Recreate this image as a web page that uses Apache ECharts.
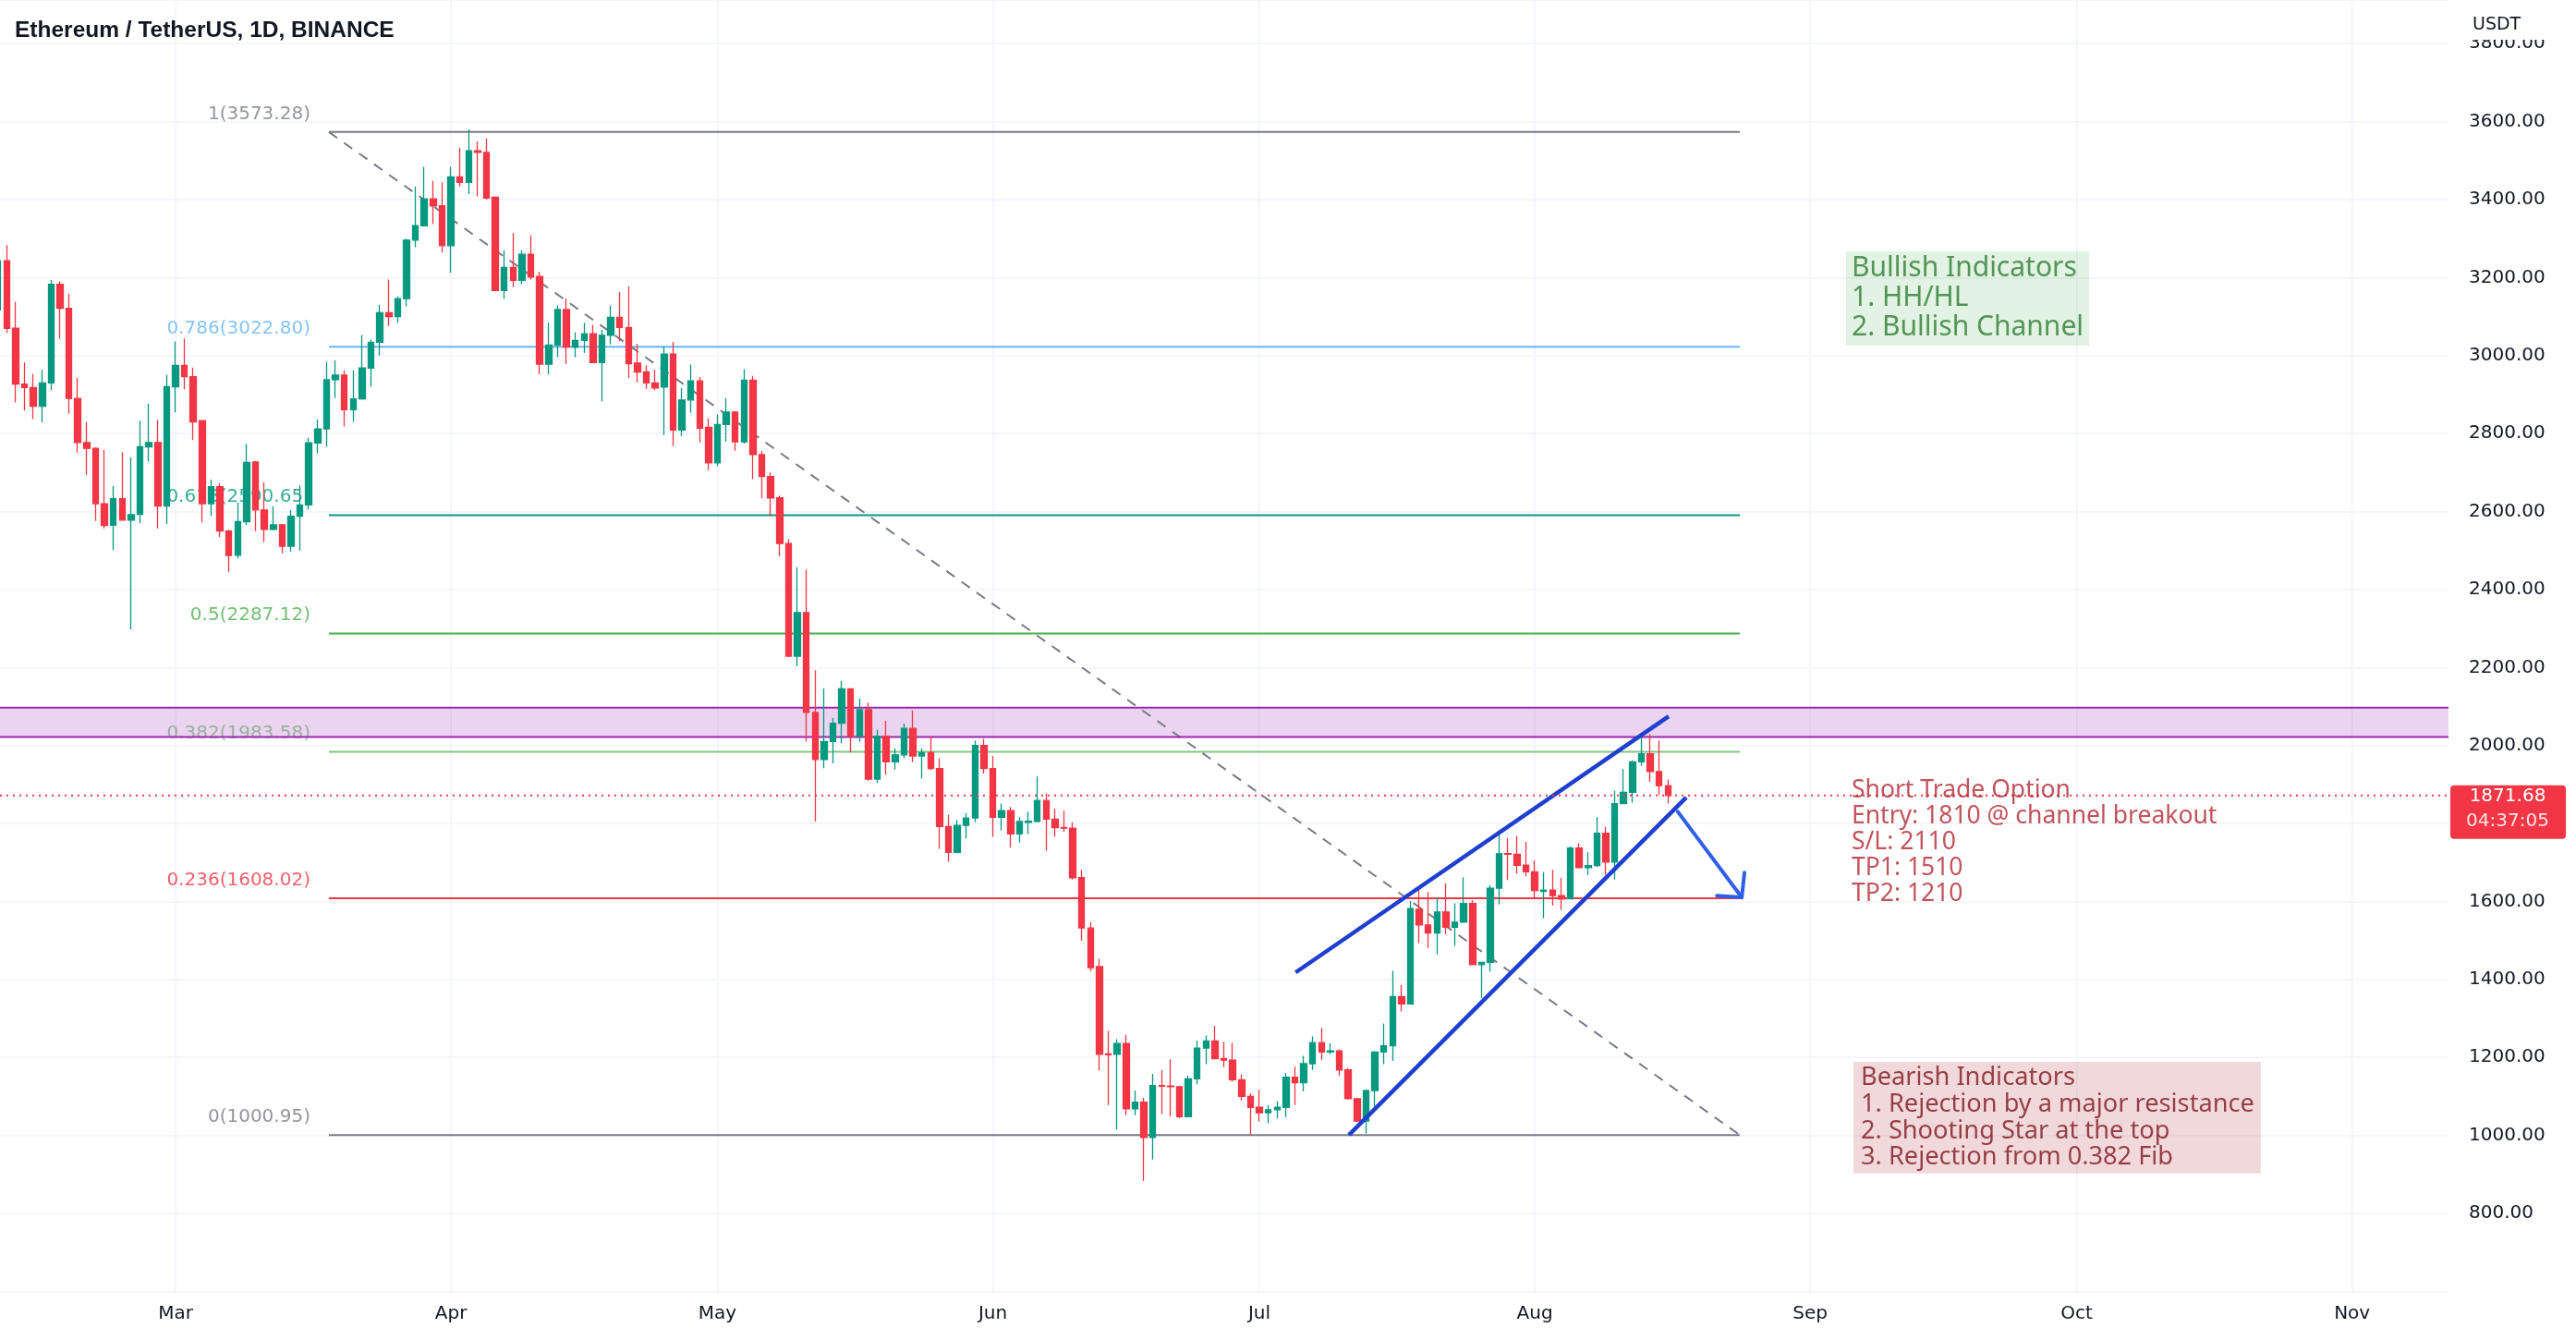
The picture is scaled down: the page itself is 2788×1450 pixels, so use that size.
<!DOCTYPE html>
<html>
<head>
<meta charset="utf-8">
<script src="https://cdn.jsdelivr.net/npm/echarts@6/dist/echarts.min.js"></script>
<style>html,body{margin:0;padding:0;background:#fff}#c{width:2788px;height:1450px}</style>
</head>
<body>
<div id="c"></div>
<script>
// ---------------- DATA ----------------
const firstCandleDate = '2022-02-09'; // consecutive daily candles from here
const open = [
  3117,3243,3070,2927,2918,2870,2930,3183,3121,2890,2777,2762,2620,2565,2633,2578,2593,2766,2777,2614,
  2920,2975,2946,2833,2620,2664,2550,2488,2574,2727,2604,2554,2566,2511,2588,2617,2776,2812,2938,2950,2861,2889,2968,3034,3110,3100,3146,3296,3333,3402,3384,
  3282,3458,3444,3525,3521,3406,3167,3226,3193,3260,3203,2978,3027,3118,3022,3039,3056,2982,3052,3098,3072,2981,2958,2930,2919,3004,2809,2886,2935,2816,
  2725,2823,2855,2779,2937,2746,2690,2635,2518,2229,2341,2085,1964,2010,2057,2145,2024,2092,1914,2024,1958,1976,2044,1973,1982,1941,1792,1726,1795,1814,2000,
  1941,1816,1833,1773,1803,1805,1859,1811,1790,1788,1661,1532,1433,1209,1208,1236,1068,1085,995,1128,1127,1125,1048,1145,1224,1242,1197,1193,1143,1100,
  1072,1058,1066,1072,1149,1135,1184,1238,1214,1217,1168,1094,1037,1115,1214,1230,1356,1337,1580,1540,1519,1573,1534,1547,1595,1438,1444,1634,1723,1721,1693,
  1676,1626,1629,1615,1607,1737,1687,1692,1775,1701,1851,1880,1958,1979,1933,1897
];
const high = [
  3262,3283,3138,2983,2953,2963,3194,3190,3159,2943,2830,2765,2758,2665,2752,2739,2833,2876,2834,2950,
  3036,3044,2969,2835,2682,2672,2553,2623,2773,2730,2675,2614,2568,2604,2667,2789,2836,2984,2988,2962,2962,3053,3041,3130,3195,3152,3300,3434,3484,3448,3444,
  3484,3533,3580,3549,3557,3408,3270,3314,3270,3308,3215,3084,3128,3146,3060,3084,3079,3066,3128,3163,3177,3030,2975,2964,3023,3035,2917,2977,2945,2839,
  2849,2891,2858,2965,2948,2756,2700,2641,2529,2457,2451,2193,2146,2071,2166,2147,2121,2110,2040,2063,1993,2056,2090,1993,2024,1967,1823,1809,1827,2013,2017,
  1973,1851,1842,1816,1830,1921,1877,1838,1833,1803,1681,1547,1453,1268,1247,1258,1115,1096,1158,1168,1195,1127,1153,1243,1256,1281,1240,1238,1157,1108,
  1117,1078,1088,1160,1176,1204,1254,1276,1236,1221,1173,1097,1118,1216,1287,1422,1386,1601,1630,1625,1610,1647,1595,1662,1603,1444,1642,1782,1763,1768,1753,
  1705,1676,1681,1661,1741,1749,1726,1816,1792,1884,1940,1962,2024,2029,2013,1913
];
const low = [
  3100,3058,2880,2859,2837,2829,2912,3044,2851,2751,2694,2576,2556,2501,2577,2298,2570,2728,2556,2568,
  2854,2913,2783,2572,2588,2535,2444,2480,2566,2550,2521,2552,2493,2497,2500,2605,2749,2766,2891,2818,2830,2887,2920,3000,3076,3084,3126,3278,3331,3337,3264,
  3213,3434,3414,3408,3400,3166,3146,3176,3184,3195,2952,2952,2996,2978,2996,3007,2982,2883,3029,3037,2942,2931,2914,2911,2796,2768,2793,2853,2777,2706,
  2716,2779,2756,2774,2683,2634,2588,2485,2227,2203,2010,1805,1942,1954,2006,1982,2010,1910,1903,1925,1938,1967,1957,1915,1937,1735,1702,1724,1761,1803,1928,
  1766,1782,1738,1751,1773,1803,1730,1766,1779,1656,1499,1421,1166,1078,1015,1052,1052,883,938,1055,1048,1044,1047,1131,1183,1195,1175,1138,1090,1001,
  1036,1031,1044,1047,1078,1113,1168,1194,1208,1153,1092,1034,1005,1074,1183,1191,1318,1337,1494,1481,1464,1516,1486,1545,1437,1352,1420,1592,1655,1671,1664,
  1608,1557,1589,1578,1606,1685,1668,1688,1668,1656,1851,1853,1948,1907,1873,1851
];
const close = [
  3243,3070,2927,2918,2870,2930,3183,3121,2890,2777,2762,2620,2564,2633,2578,2592,2766,2777,2614,2920,
  2975,2946,2830,2620,2664,2550,2487,2574,2726,2604,2554,2566,2511,2588,2617,2776,2812,2938,2950,2861,2889,2968,3034,3110,3100,3146,3296,3333,3402,3384,3282,
  3458,3444,3525,3521,3404,3167,3226,3193,3260,3201,2978,3027,3118,3022,3039,3056,2982,3052,3098,3072,2979,2958,2930,2917,3004,2809,2886,2935,2814,2725,
  2823,2855,2779,2937,2746,2690,2635,2518,2229,2341,2085,1964,2010,2057,2145,2024,2092,1914,2024,1958,1976,2044,1973,1982,1941,1792,1726,1795,1814,2000,1941,
  1816,1833,1773,1805,1806,1859,1811,1789,1788,1661,1532,1430,1208,1207,1236,1068,1085,995,1128,1126,1125,1048,1145,1224,1242,1197,1193,1143,1100,1072,
  1058,1066,1072,1149,1135,1184,1238,1214,1217,1168,1094,1037,1115,1214,1230,1356,1337,1582,1540,1519,1573,1534,1547,1595,1438,1444,1634,1723,1721,1693,1676,
  1628,1629,1615,1606,1737,1687,1692,1775,1701,1851,1880,1958,1979,1933,1897,1871.68
];
const monthTickDates = ['2022-03-01','2022-04-01','2022-05-01','2022-06-01','2022-07-01','2022-08-01','2022-09-01','2022-10-01','2022-11-01'];
const monthTickLabels = ['Mar','Apr','May','Jun','Jul','Aug','Sep','Oct','Nov'];

const fibRatios = ['1','0.786','0.618','0.5','0.382','0.236','0'];
const fibPrices = [3573.28, 3022.80, 2590.65, 2287.12, 1983.58, 1608.02, 1000.95];
const fibColors = ['#787b86','#64b5f6','#089981','#4caf50','#81c784','#f23645','#787b86'];
const fibSpanDays = [17.26, 176.08];        // day offsets (from 1 Mar) of the two fib anchors
const resistanceZone = [2022, 2097];
const channelUpper = [[126.08, 1418], [168.07, 2075]];
const channelLower = [[132.08, 1001], [170.05, 1867]];
const arrowShaft = [[169.1, 1830], [176.3, 1610.5]];
const arrowHead = [[173.5, 1615], [176.3, 1610.5], [176.6, 1674]];
const lastPrice = 1871.68;
const countdownText = '04:37:05';

const bullishText = 'Bullish Indicators\n1. HH/HL\n2. Bullish Channel';
const shortText = 'Short Trade Option\nEntry: 1810 @ channel breakout\nS/L: 2110\nTP1: 1510\nTP2: 1210';
const bearishText = 'Bearish Indicators\n1. Rejection by a major resistance\n2. Shooting Star at the top\n3. Rejection from 0.382 Fib';
const bullishAnchor = [188.04, 3267];
const shortAnchor = [188.66, 1918.6];
const bearishAnchor = [188.87, 1188.6];

// ---------------- BUILD ----------------
const DAY = 86400000;
const BASE = Date.UTC(2022, 2, 1);
function dayOf(s) { const p = s.split('-').map(Number); return (Date.UTC(p[0], p[1] - 1, p[2]) - BASE) / DAY; }
const firstDay = dayOf(firstCandleDate);
const candles = open.map((o, i) => [firstDay + i, o, close[i], low[i], high[i]]);
const monthDays = monthTickDates.map(dayOf);

const X_MIN = -19.76, X_MAX = 255.85;
const Y_MIN = 600, Y_MAX = 3911.9;
const AX_FONT = '"DejaVu Sans", sans-serif';
const TXT_FONT = '"Noto Sans", "Open Sans", sans-serif';

const series = [];

// fib labels (under everything)
series.push({
  type: 'scatter', z: 0, silent: true, symbolSize: 0,
  data: fibPrices.map((p, i) => ({
    value: [fibSpanDays[0], p],
    label: {
      show: true, position: 'left', distance: 20, offset: [0, -19.5],
      formatter: fibRatios[i] + '(' + p.toFixed(2) + ')',
      color: fibColors[i], fontFamily: AX_FONT, fontSize: 20
    }
  }))
});
// fib level lines
fibPrices.forEach((p, i) => {
  series.push({
    type: 'line', z: 1, silent: true, showSymbol: false, symbol: 'none',
    data: [[fibSpanDays[0], p], [fibSpanDays[1], p]],
    lineStyle: { color: fibColors[i], width: 2 }
  });
});
// dashed trend line between fib anchors
series.push({
  type: 'line', z: 1, silent: true, symbol: 'none',
  data: [[fibSpanDays[0], fibPrices[0]], [fibSpanDays[1], fibPrices[fibPrices.length - 1]]],
  lineStyle: { color: '#787b86', width: 2, type: [11, 9] }
});
// resistance zone
series.push({
  type: 'line', z: 2, silent: true, symbol: 'none',
  data: [[X_MIN, resistanceZone[1]], [X_MAX, resistanceZone[1]]],
  lineStyle: { color: '#9c27b0', width: 2 },
  markArea: {
    silent: true,
    itemStyle: { color: 'rgba(156,39,176,0.2)' },
    data: [[{ coord: [X_MIN, resistanceZone[0]] }, { coord: [X_MAX, resistanceZone[1]] }]]
  }
});
series.push({
  type: 'line', z: 2, silent: true, symbol: 'none',
  data: [[X_MIN, resistanceZone[0]], [X_MAX, resistanceZone[0]]],
  lineStyle: { color: '#9c27b0', width: 2 }
});
// candles
series.push({
  type: 'candlestick', z: 3, silent: true, barWidth: 7,
  data: candles,
  itemStyle: { color: '#089981', color0: '#f23645', borderColor: '#089981', borderColor0: '#f23645', borderWidth: 1.3 }
});
// channel + arrow
[channelUpper, channelLower].forEach(d => series.push({
  type: 'line', z: 4, silent: true, symbol: 'none', data: d,
  lineStyle: { color: '#1e3fcf', width: 4.5 }
}));
[arrowShaft, arrowHead].forEach(d => series.push({
  type: 'line', z: 4, silent: true, symbol: 'none', data: d,
  lineStyle: { color: '#2f5fe8', width: 4, cap: 'round', join: 'round' }
}));
// last price dotted line
series.push({
  type: 'line', z: 4, silent: true, symbol: 'none',
  data: [[X_MIN, lastPrice], [X_MAX, lastPrice]],
  lineStyle: { color: '#f23645', width: 2, type: [2, 5] }
});
// annotations
series.push({
  type: 'scatter', z: 5, silent: true, symbolSize: 0,
  data: [
    { value: bullishAnchor, label: { show: true, position: 'right', distance: 0, verticalAlign: 'top', formatter: bullishText,
      color: '#2e7d32', fontFamily: TXT_FONT, fontSize: 30, lineHeight: 32, backgroundColor: 'rgba(76,175,80,0.2)', padding: [2, 6, 4, 6] } },
    { value: shortAnchor, label: { show: true, position: 'right', distance: 0, verticalAlign: 'top', formatter: shortText,
      color: '#b22833', fontFamily: TXT_FONT, fontSize: 26.5, lineHeight: 28 } },
    { value: bearishAnchor, label: { show: true, position: 'right', distance: 0, verticalAlign: 'top', formatter: bearishText,
      color: '#7f1520', fontFamily: TXT_FONT, fontSize: 27.2, lineHeight: 28.7, backgroundColor: 'rgba(178,40,51,0.22)', padding: [3, 7, 3, 8] } }
  ]
});

const chart = echarts.init(document.getElementById('c'), null, { renderer: 'canvas' });
chart.setOption({
  animation: false,
  backgroundColor: '#ffffff',
  title: {
    text: 'Ethereum / TetherUS, 1D, BINANCE', left: 16, top: 21, padding: 0,
    textStyle: { fontFamily: '"Liberation Sans", Arial, sans-serif', fontWeight: 'bold', fontSize: 24.5, color: '#131722' }
  },
  grid: { left: 0, right: 138, top: 0, bottom: 52.6, containLabel: false, outerBoundsMode: 'none' },
  xAxis: {
    type: 'value', min: X_MIN, max: X_MAX,
    axisLine: { show: false },
    axisTick: { show: false, customValues: monthDays },
    axisLabel: {
      customValues: monthDays,
      formatter: v => { const k = monthDays.indexOf(v); return k >= 0 ? monthTickLabels[k] : ''; },
      color: '#131722', fontFamily: AX_FONT, fontSize: 20, margin: 14
    },
    splitLine: { show: true, lineStyle: { color: '#f0f3fa', width: 1.5 } }
  },
  yAxis: {
    type: 'value', position: 'right', min: Y_MIN, max: Y_MAX, interval: 200,
    axisLine: { show: false }, axisTick: { show: false },
    axisLabel: {
      showMinLabel: false, showMaxLabel: false,
      formatter: v => (v % 200 === 0 && v >= 800) ? v.toFixed(2) : '',
      color: '#131722', fontFamily: AX_FONT, fontSize: 20, margin: 22, align: 'left'
    },
    splitLine: { show: true, lineStyle: { color: '#f0f3fa', width: 1.5 } }
  },
  series: series
});

const py = chart.convertToPixel({ yAxisIndex: 0 }, lastPrice);
chart.setOption({
  graphic: [
    { type: 'rect', z: 100, shape: { x: 2651, y: 0, width: 137, height: 43 }, style: { fill: '#ffffff' } },
    { type: 'text', z: 101, x: 2676, y: 27, style: { text: 'USDT', fill: '#131722', font: '19px "DejaVu Sans"', align: 'left', verticalAlign: 'middle' } },
    { type: 'rect', z: 100, shape: { x: 2652, y: py - 11, width: 125, height: 58, r: 4 }, style: { fill: '#f23645' } },
    { type: 'text', z: 101, x: 2714, y: py + 1, style: { text: lastPrice.toFixed(2), fill: '#ffffff', font: '20px "DejaVu Sans"', align: 'center', verticalAlign: 'middle' } },
    { type: 'text', z: 101, x: 2714, y: py + 28, style: { text: countdownText, fill: '#ffe3e5', font: '20px "DejaVu Sans"', align: 'center', verticalAlign: 'middle' } }
  ]
});
</script>
</body>
</html>
